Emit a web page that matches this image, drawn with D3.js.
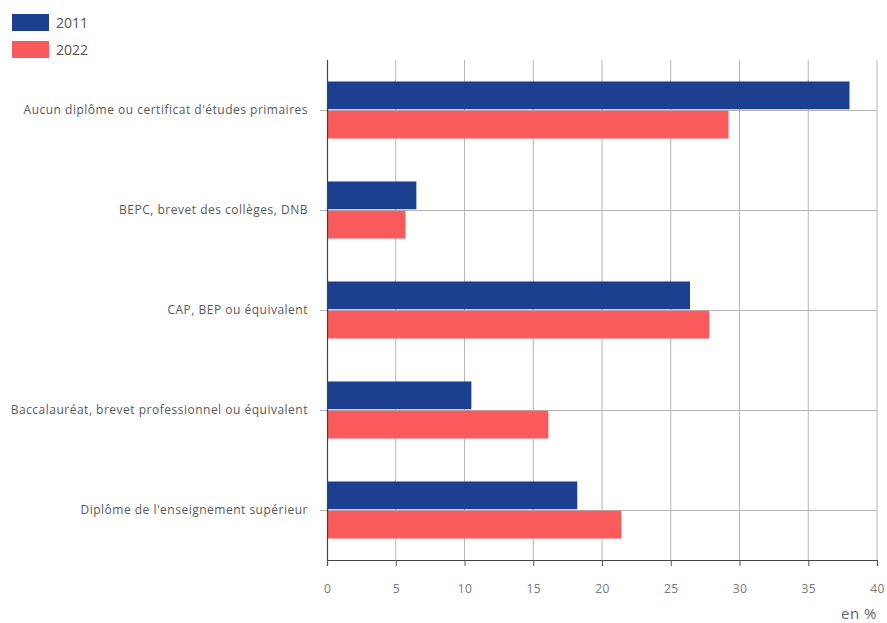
<!DOCTYPE html>
<html>
<head>
<meta charset="utf-8">
<script src="https://cdn.jsdelivr.net/npm/d3@7"></script>
<style>
  body { margin: 0; background: #fff; }
  svg { display: block; font-family: "Open Sans", "Noto Sans", sans-serif; }
</style>
</head>
<body>
<svg id="chart" width="887" height="623"></svg>
<script>
// Diploma categories, top to bottom
const categories = [
  "Aucun diplôme ou certificat d'études primaires",
  "BEPC, brevet des collèges, DNB",
  "CAP, BEP ou équivalent",
  "Baccalauréat, brevet professionnel ou équivalent",
  "Diplôme de l'enseignement supérieur"
];
const seriesNames = ["2011", "2022"];
const values2011 = [38.0, 6.5, 26.4, 10.5, 18.2];
const values2022 = [29.2, 5.7, 27.8, 16.1, 21.4];
const xTicks = [0, 5, 10, 15, 20, 25, 30, 35, 40];
const unitLabel = "en %";

const colors = { "2011": "#1c3f8f", "2022": "#f95a5c" };

const svg = d3.select("#chart");
const margin = { left: 327, right: 10, top: 60, bottom: 63 };
const plotW = 877 - margin.left;
const plotH = 560 - margin.top;

const g = svg.append("g").attr("transform", `translate(${margin.left},${margin.top})`);

const x = d3.scaleLinear().domain([0, 40]).range([0, plotW]);
const y = d3.scaleBand().domain(categories).range([0, plotH]).paddingInner(0.4).paddingOuter(0.2);
const ySub = d3.scaleBand().domain(seriesNames).range([0, y.bandwidth()]).padding(0.05);

// Vertical gridlines
g.append("g").selectAll("line").data(xTicks.slice(1)).join("line")
  .attr("x1", d => x(d)).attr("x2", d => x(d))
  .attr("y1", 0).attr("y2", plotH)
  .attr("stroke", "#b5b5b5").attr("stroke-width", 1);

// Horizontal lines at category centers
g.append("g").selectAll("line").data(categories).join("line")
  .attr("x1", -7).attr("x2", plotW)
  .attr("y1", d => Math.round(y(d) + y.bandwidth() / 2) + 0.5)
  .attr("y2", d => Math.round(y(d) + y.bandwidth() / 2) + 0.5)
  .attr("stroke", "#b5b5b5").attr("stroke-width", 1);

// Bars
const rows = categories.map((c, i) => ({ cat: c, vals: [values2011[i], values2022[i]] }));
const grp = g.append("g").selectAll("g").data(rows).join("g")
  .attr("transform", d => `translate(0,${y(d.cat)})`);
grp.selectAll("rect").data(d => d.vals.map((v, j) => ({ key: seriesNames[j], v })))
  .join("rect")
  .attr("x", 0)
  .attr("y", d => ySub(d.key))
  .attr("width", d => x(d.v))
  .attr("height", ySub.bandwidth())
  .attr("fill", d => colors[d.key]);

// Left axis line
g.append("line").attr("x1", 0.5).attr("x2", 0.5).attr("y1", 0).attr("y2", plotH)
  .attr("stroke", "#444").attr("stroke-width", 1.2);

// Category labels
g.append("g").selectAll("text").data(categories).join("text")
  .attr("x", -19)
  .attr("y", d => y(d) + y.bandwidth() / 2)
  .attr("dy", "0.35em")
  .attr("text-anchor", "end")
  .attr("font-size", 12)
  .attr("letter-spacing", 0.5)
  .attr("fill", "#5a5a5a")
  .text(d => d);

// Bottom axis
const xAxis = d3.axisBottom(x).tickValues(xTicks).tickSize(6).tickPadding(18);
const ax = g.append("g").attr("transform", `translate(0,${plotH})`).call(xAxis);
ax.select(".domain").attr("stroke", "#444").attr("stroke-width", 1.2);
ax.selectAll(".tick line").attr("stroke", "#555");
ax.selectAll(".tick text").attr("fill", "#777").attr("font-size", 12)
  .attr("letter-spacing", 0.4)
  .attr("font-family", "\"Open Sans\", sans-serif");

// Unit label
svg.append("text").attr("x", 877).attr("y", 619)
  .attr("text-anchor", "end").attr("font-size", 15).attr("letter-spacing", 0.5)
  .attr("fill", "#666")
  .text(unitLabel);

// Legend
const leg = svg.append("g").attr("transform", "translate(12,14)");
seriesNames.forEach((s, i) => {
  const row = leg.append("g").attr("transform", `translate(0,${i * 27})`);
  row.append("rect").attr("width", 37).attr("height", 17).attr("fill", colors[s]);
  row.append("text").attr("x", 44).attr("y", 9).attr("dy", "0.35em")
    .attr("font-size", 14).attr("fill", "#555").text(s);
});
</script>
</body>
</html>
